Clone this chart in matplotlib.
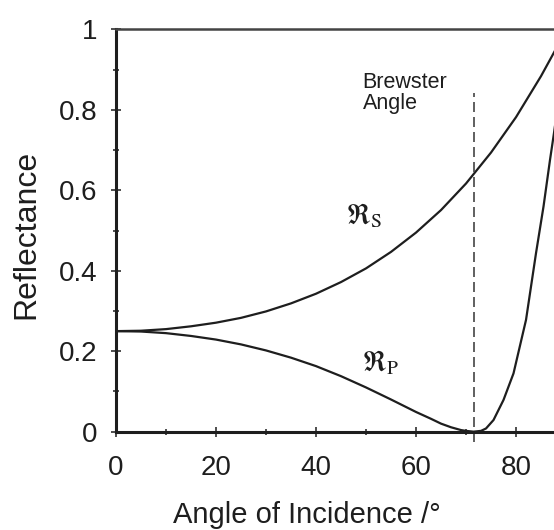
import matplotlib.pyplot as plt
import numpy as np

plt.rcParams['font.family'] = ['Liberation Sans', 'DejaVu Sans']

# values
angle_s = [0, 5, 10, 15, 20, 25, 30, 35, 40, 45, 50, 55, 60, 65, 70, 75, 80, 85, 88, 90]
refl_s = [0.25, 0.251, 0.255, 0.262, 0.271, 0.283, 0.299, 0.319, 0.343, 0.372,
          0.406, 0.447, 0.495, 0.551, 0.617, 0.694, 0.782, 0.884, 0.952, 1.0]

angle_p = [0, 5, 10, 15, 20, 25, 30, 35, 40, 45, 50, 55, 60, 63, 65, 67, 69, 70,
           71.5, 73, 74, 75.5, 77.5, 79.5, 82, 84, 85.5, 86.8, 87.6, 89, 90]
refl_p = [0.25, 0.249, 0.245, 0.238, 0.229, 0.217, 0.202, 0.184, 0.163, 0.138,
          0.110, 0.080, 0.049, 0.032, 0.020, 0.011, 0.004, 0.002,
          0.0, 0.002, 0.008, 0.029, 0.079, 0.145, 0.278, 0.444, 0.56, 0.676, 0.743, 0.87, 1.0]

brewster = 71.5

xticks = [0, 20, 40, 60, 80]
yticks = [0, 0.2, 0.4, 0.6, 0.8, 1]
ytick_labels = ['0', '0.2', '0.4', '0.6', '0.8', '1']

ink = '#1e1e1e'

fig = plt.figure(figsize=(5.54, 5.30), dpi=100)
# axes runs past the right edge of the figure, like the reference
ax = fig.add_axes([0.2094, 0.1855, 0.8123, 0.7589])

ax.plot(angle_s, refl_s, color=ink, lw=1.6, solid_capstyle='butt')
ax.plot(angle_p, refl_p, color=ink, lw=1.6, solid_capstyle='butt')
ax.plot([brewster, brewster], [-0.025, 0.842], color='#444444', lw=1.2,
        ls=(0, (6, 3)), clip_on=False)

ax.text(49.3, 0.895, 'Brewster\nAngle', fontsize=15.5, va='top', ha='left',
        color=ink, linespacing=1.0)
ax.text(49.6, 0.535, r'$\Re_{\rm S}$', fontsize=20, ha='center', va='center',
        color=ink, math_fontfamily='stix')
ax.text(53.0, 0.17, r'$\Re_{\rm P}$', fontsize=20, ha='center', va='center',
        color=ink, math_fontfamily='stix')

ax.set_xlim(0, 90)
ax.set_ylim(0, 1)
ax.set_xticks(xticks)
ax.set_xticks(np.arange(10, 90, 20), minor=True)
ax.set_yticks(yticks)
ax.set_yticklabels(ytick_labels)
ax.set_yticks(np.arange(0.1, 1.0, 0.2), minor=True)

ax.tick_params(which='major', direction='inout', length=7, width=1.1,
               color=ink, labelsize=20, labelcolor=ink)
ax.tick_params(which='minor', direction='inout', length=5, width=1.1, color=ink)
ax.tick_params(axis='x', which='major', pad=13)
ax.tick_params(axis='y', which='major', pad=10)

for side in ['left', 'bottom']:
    ax.spines[side].set_linewidth(2.2)
    ax.spines[side].set_color(ink)
ax.spines['top'].set_linewidth(1.8)
ax.spines['top'].set_color('#444444')
ax.spines['right'].set_visible(False)

ax.set_xlabel('Angle of Incidence /°', fontsize=21, color=ink)
ax.set_ylabel('Reflectance', fontsize=23, color=ink)
ax.xaxis.set_label_coords(0.424, -0.172)
ax.yaxis.set_label_coords(-0.165, 0.49)

fig.savefig('out.png', dpi=100)
